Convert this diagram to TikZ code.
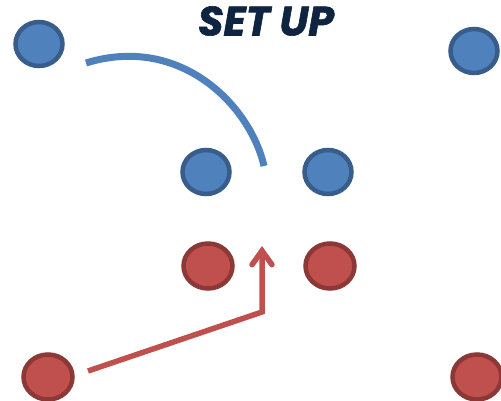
\documentclass[tikz,border=0pt]{standalone}
\usepackage{fontspec}
\newfontfamily\titlefont{Poppins}[BoldItalicFeatures={FakeBold=1.5}]
\usetikzlibrary{arrows.meta,shapes.geometric}
\definecolor{bfill}{HTML}{4F81BD}
\definecolor{bline}{HTML}{385D8A}
\definecolor{rfill}{HTML}{C0504D}
\definecolor{rline}{HTML}{8C3836}
\definecolor{navy}{HTML}{0F2440}
\tikzset{
  bplayer/.style={ellipse, fill=bfill, draw=bline, line width=4.5pt, minimum width=47pt, minimum height=44pt, inner sep=0pt},
  rplayer/.style={ellipse, fill=rfill, draw=rline, line width=4.5pt, minimum width=49pt, minimum height=45pt, inner sep=0pt},
  bpath/.style={draw=bfill, line width=7pt},
  rpath/.style={draw=rfill, line width=5.5pt},
}
\begin{document}
\begin{tikzpicture}[x=1pt,y=-1pt]
\useasboundingbox (0,0) rectangle (501,401);
\node[text=navy, font=\titlefont\bfseries\itshape\fontsize{41}{41}\selectfont] (title) at (266,21) {SET UP};
\node[bplayer] (b1) at (39,44) {};
\node[bplayer] (b2) at (474,51) {};
\node[bplayer] (b3) at (206,172) {};
\node[bplayer] (b4) at (328,172) {};
\node[rplayer] (r1) at (208,266) {};
\node[rplayer] (r2) at (330,266) {};
\node[rplayer] (r3) at (48,377) {};
\node[rplayer] (r4) at (477,377) {};
\coordinate (bs) at (86,63);
\coordinate (be) at (264,166);
\coordinate (rs) at (88,371);
\coordinate (rc) at (262,312);
\coordinate (re) at (262,246);
\draw[bpath] (bs) .. controls (180,34) and (250,105) .. (be);
\draw[rpath, -{Straight Barb[length=14pt,width=20pt,line cap=round]}] (rs) -- (rc) -- (re);
\end{tikzpicture}
\end{document}
